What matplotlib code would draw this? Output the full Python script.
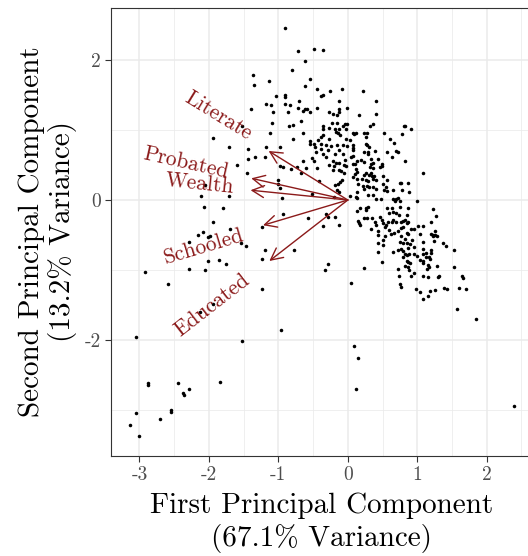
import matplotlib
matplotlib.use("Agg")
import matplotlib.pyplot as plt
from matplotlib.ticker import MultipleLocator

plt.rcParams['font.family'] = 'serif'
plt.rcParams['font.serif'] = ['cmr10']
plt.rcParams['mathtext.fontset'] = 'cm'
plt.rcParams['axes.unicode_minus'] = False

# Scores on the first two principal components
pc1 = [-0.91, -0.72, -0.49, -0.35, -0.61, -0.80, -1.36, -1.35, -1.13, -0.54,
       -0.61, -0.45, -0.26, -0.08, -1.03, -0.91, -0.91, -0.38, -0.35, -0.70,
       -0.12, -1.18, -1.10, -0.91, -0.83, -0.71, -0.59, -0.61, -0.45, -0.13,
       -0.01, -1.39, 0.22, 0.41, -1.07, -0.86, -0.65, -0.55, -0.27, -0.21,
       -0.15, -0.12, -1.09, -0.85, -0.79, -0.68, -0.36, -0.23, -0.15, -0.04,
       -0.01, -0.35, -0.27, -0.19, -0.12, -0.07, -1.12, -0.64, -0.36, -0.38,
       -0.17, -0.14, -0.11, -0.02, -0.43, -0.27, -0.03, -0.79, -0.54, -0.49,
       -0.55, -0.39, -0.31, -0.24, -0.16, -0.07, -0.01, -1.18, -0.97, -0.47,
       -0.38, -0.28, -0.13, -0.46, -0.35, -0.19, -0.07, -0.51, -0.49, -1.34,
       -1.19, -0.31, -0.22, -0.17, -0.12, -0.04, -0.65, -0.27, -0.20, -0.12,
       -0.06, -0.02, -0.97, -0.94, -0.82, -0.73, -0.67, -0.60, -0.44, -0.21,
       -0.10, -0.06, -0.41, -0.19, -0.14, -0.11, -0.09, -1.00, -1.01, -0.97,
       -0.51, -0.15, -0.12, -0.95, -0.20,
       0.16, 0.41, 0.32, 0.36, 0.81, 0.82, 0.91, 0.07, 0.09, 0.12,
       0.24, 0.26, 0.28, 0.52, 0.78, 0.61, 0.67, 0.03, 0.07, 0.08,
       0.07, 0.26, 0.27, 0.30, 0.23, 0.29, 0.29, 0.39, 0.57, 0.70,
       0.73, 0.08, 0.05, 0.63, 0.19, 0.34, 0.43, 0.83, 0.07, 0.10,
       0.13, 0.24, 0.33, 0.37, 0.49, 0.12, 0.13, 0.10, 0.32, 0.36,
       0.46, 0.49, 1.09, 0.23, 0.26, 0.30, 0.33, 0.35, 0.38, 0.07,
       0.13, 0.20, 0.26, 0.29, 0.36, 0.41, 0.50, 0.50, 0.56, 0.15,
       0.22, 0.27, 0.31, 0.24, 0.36, 0.40, 0.75, 0.76, 0.87, 0.55,
       0.52, 0.56, 0.65, 0.78, 0.88, 0.13, 0.03, 0.12, 0.13, 0.29,
       0.36, 0.41, 0.48, 0.65, 0.70, 0.72, 0.75, 0.68, 0.99, 0.17,
       0.26, 0.29, 0.57, 0.63, 0.75, 0.87, 1.23,
       0.13, 0.26, 0.60, 0.65, 0.70, 0.74, 0.85, 1.27, 0.23, 0.27,
       0.35, 0.47, 0.49, 0.14, 0.16, 0.17, 0.39, 0.41, 0.51, 0.55,
       0.58, 0.63, 0.65, 0.70, 0.79, 0.76, 0.83, 0.85, 0.87, 1.01,
       1.09, 1.20, 0.33, 0.53, 0.59, 0.62, 0.67, 0.72, 0.76, 0.79,
       0.91, 0.95, 1.25, 0.44, 0.43, 0.85, 0.87, 1.04, 1.20, 1.23,
       1.25, 1.28, 1.22, 0.53, 0.51, 0.77, 0.82, 0.93, 0.75, 0.79,
       0.85, 0.90, 1.08, 1.24, 0.44, 0.50, 1.37, 1.41, 0.87, 0.95,
       1.08, 0.44, 0.65, 0.73, 0.76, 0.80, 1.13, 1.20, 0.82, 0.80,
       0.85, 0.88, 0.95, 0.99, 1.08, 1.13, 1.17, 1.20, 1.19, 1.53,
       0.49, 1.04, 1.09, 1.08, 0.85, 0.86, 0.89, 1.16, 1.17, 1.14,
       1.29, 0.72, 0.83, 0.87, 0.88, 0.96, 0.91, 0.74, 1.08, 1.16,
       1.31, 1.30, 1.53, 0.23, 0.05, 0.75, 0.76, 0.98, 1.04, 1.09,
       1.16, 1.19, 1.26, 1.38, 1.43, 1.60, 1.70, 1.64, 1.66, 1.57,
       1.84, 2.40,
       -1.52, -1.94, -1.71, -1.43, -1.43, -1.60, -1.45, -2.06, -2.12, -1.71,
       -2.07, -1.79, -1.94, -1.70, -2.15, -2.08, -2.02, -1.99, -2.28, -1.54,
       -1.46, -2.02, -1.85, -1.76, -2.29, -2.05, -2.92, -2.59, -2.13, -1.94,
       -3.05, -1.53, -2.87, -2.87, -2.44, -1.84, -2.37, -2.36, -2.28, -3.05,
       -2.71, -2.55, -2.54, -3.14, -3.00,
       -0.94, -0.57, -0.31, -0.29, -0.19, -0.36, -0.13, -1.23, -1.19, -1.23,
       -0.77, -0.28, -0.33, -1.23, -0.96, 0.09, 0.14, 0.12]
pc2 = [2.46, 2.12, 2.16, 2.14, 1.98, 1.85, 1.79, 1.64, 1.70, 1.72,
       1.63, 1.59, 1.55, 1.59, 1.48, 1.50, 1.47, 1.49, 1.50, 1.41,
       1.42, 1.37, 1.36, 1.37, 1.35, 1.31, 1.30, 1.30, 1.32, 1.30,
       1.32, 1.30, 1.56, 1.41, 1.25, 1.25, 1.27, 1.26, 1.26, 1.23,
       1.22, 1.26, 1.10, 1.06, 1.07, 1.13, 1.06, 1.10, 1.10, 1.08,
       1.08, 1.01, 1.03, 1.02, 1.02, 1.05, 0.96, 0.96, 0.93, 0.90,
       0.97, 0.96, 0.93, 1.01, 0.86, 0.87, 0.87, 0.87, 0.84, 0.80,
       0.80, 0.80, 0.79, 0.77, 0.78, 0.79, 0.77, 0.75, 0.75, 0.75,
       0.73, 0.71, 0.72, 0.68, 0.65, 0.65, 0.66, 0.60, 0.56, 0.62,
       0.62, 0.61, 0.56, 0.53, 0.53, 0.57, 0.55, 0.50, 0.49, 0.43,
       0.50, 0.49, 0.49, 0.47, 0.44, 0.47, 0.38, 0.45, 0.46, 0.43,
       0.42, 0.39, 0.27, 0.21, 0.23, 0.26, 0.28, 0.29, 0.23, 0.17,
       0.09, 0.14, 0.12, 0.03, 0.04,
       1.22, 1.23, 1.06, 1.08, 1.06, 1.05, 1.01, 0.96, 0.94, 0.95,
       0.96, 0.90, 0.95, 0.96, 0.94, 0.87, 0.81, 0.86, 0.78, 0.74,
       0.72, 0.80, 0.79, 0.75, 0.69, 0.69, 0.65, 0.70, 0.68, 0.70,
       0.69, 0.63, 0.61, 0.61, 0.57, 0.59, 0.59, 0.56, 0.52, 0.52,
       0.55, 0.54, 0.51, 0.53, 0.51, 0.44, 0.40, 0.37, 0.47, 0.45,
       0.47, 0.49, 0.39, 0.36, 0.38, 0.36, 0.38, 0.34, 0.34, 0.33,
       0.30, 0.30, 0.29, 0.27, 0.30, 0.28, 0.34, 0.23, 0.28, 0.23,
       0.20, 0.20, 0.18, 0.16, 0.19, 0.16, 0.25, 0.24, 0.25, 0.19,
       0.14, 0.13, 0.14, 0.14, 0.12, 0.12, 0.06, 0.04, 0.03, 0.07,
       0.07, 0.01, 0.01, 0.02, 0.01, 0.03, -0.01, -0.02, -0.01, -0.11,
       -0.11, -0.10, -0.11, -0.11, -0.10, -0.12, -0.13,
       -0.15, -0.14, -0.18, -0.17, -0.19, -0.21, -0.22, -0.23, -0.25, -0.26,
       -0.26, -0.24, -0.28, -0.30, -0.33, -0.36, -0.32, -0.35, -0.33, -0.35,
       -0.32, -0.31, -0.29, -0.31, -0.30, -0.32, -0.29, -0.33, -0.31, -0.37,
       -0.37, -0.32, -0.41, -0.39, -0.43, -0.48, -0.47, -0.44, -0.40, -0.39,
       -0.41, -0.41, -0.44, -0.44, -0.50, -0.47, -0.49, -0.49, -0.49, -0.50,
       -0.50, -0.51, -0.52, -0.52, -0.57, -0.52, -0.56, -0.57, -0.60, -0.61,
       -0.62, -0.63, -0.60, -0.59, -0.62, -0.64, -0.62, -0.65, -0.69, -0.67,
       -0.70, -0.74, -0.74, -0.72, -0.70, -0.73, -0.75, -0.72, -0.77, -0.81,
       -0.79, -0.77, -0.77, -0.80, -0.77, -0.81, -0.81, -0.76, -0.84, -0.71,
       -0.89, -0.86, -0.87, -0.90, -0.87, -0.89, -0.90, -0.93, -0.96, -0.99,
       -0.94, -0.98, -0.94, -0.96, -1.00, -1.04, -1.09, -1.09, -1.08, -1.10,
       -1.08, -1.10, -0.95, -0.97, -1.18, -1.20, -1.24, -1.27, -1.31, -1.41,
       -1.37, -1.30, -1.28, -1.25, -1.27, -1.26, -1.27, -1.08, -1.11, -1.56,
       -1.70, -2.94,
       1.06, 0.89, 0.76, 0.73, 0.59, 0.50, 0.38, 0.21, 0.06, 0.06,
       -0.10, -0.12, -0.32, -0.41, -0.50, -0.46, -0.53, -0.52, -0.60, -0.62,
       -0.66, -0.87, -0.85, -0.92, -0.99, -1.00, -1.02, -1.20, -1.60, -1.49,
       -1.95, -2.01, -2.61, -2.64, -2.61, -2.59, -2.76, -2.78, -2.70, -3.04,
       -3.12, -3.00, -3.03, -3.21, -3.37,
       -0.20, -0.25, -0.20, -0.24, -0.24, -0.37, -0.35, -0.39, -0.72, -0.84,
       -0.72, -0.92, -1.00, -1.27, -1.86, -2.09, -2.26, -2.69]

# Variable loadings (arrow tips) and where their labels sit
load_x = [-1.14, -1.39, -1.40, -1.22, -1.13]
load_y = [0.70, 0.31, 0.14, -0.36, -0.87]
label_names = ['Literate', 'Probated', 'Wealth', 'Schooled', 'Educated']
label_x = [-1.87, -2.33, -2.14, -2.07, -1.96]
label_y = [1.20, 0.53, 0.23, -0.67, -1.50]
label_rot = [-31.5, -12.7, -5.8, 16.6, 37.8]

red = '#8B1A1A'

fig = plt.figure(figsize=(5.28, 5.56), dpi=100)
# panel runs slightly past the right edge of the image, as in the original
ax = fig.add_axes([0.2102, 0.1802, 0.797, 0.8054])

ax.scatter(pc1, pc2, s=6.5, color='black', linewidths=0, zorder=3)

for lx, ly in zip(load_x, load_y):
    ax.annotate('', xy=(lx, ly), xytext=(0, 0),
                arrowprops=dict(arrowstyle='->,head_length=0.86,head_width=0.43',
                                color=red, lw=1.0, mutation_scale=10,
                                shrinkA=0, shrinkB=0),
                zorder=4)

for name, tx, ty, rot in zip(label_names, label_x, label_y, label_rot):
    ax.text(tx, ty, name, color=red, fontsize=15.5, rotation=rot,
            rotation_mode='anchor', ha='center', va='center', zorder=5)

ax.set_xlim(-3.41, 2.65)
ax.set_ylim(-3.65, 2.74)
ax.xaxis.set_major_locator(MultipleLocator(1))
ax.xaxis.set_minor_locator(MultipleLocator(0.5))
ax.yaxis.set_major_locator(MultipleLocator(2))
ax.yaxis.set_minor_locator(MultipleLocator(1))

ax.grid(which='major', color='#EBEBEB', lw=1.1)
ax.grid(which='minor', color='#EBEBEB', lw=0.55)
ax.set_axisbelow(True)
for sp in ax.spines.values():
    sp.set_color('#333333')
    sp.set_linewidth(0.8)

ax.tick_params(which='major', length=4, width=0.8, color='#333333',
               labelcolor='#4D4D4D', labelsize=14)
ax.tick_params(which='minor', length=0)

ax.set_xlabel('First Principal Component\n(67.1% Variance)', fontsize=21,
              linespacing=1.25, labelpad=6)
ax.set_ylabel('Second Principal Component\n(13.2% Variance)', fontsize=21,
              linespacing=1.15, labelpad=5)

fig.savefig('out.png', dpi=100)
